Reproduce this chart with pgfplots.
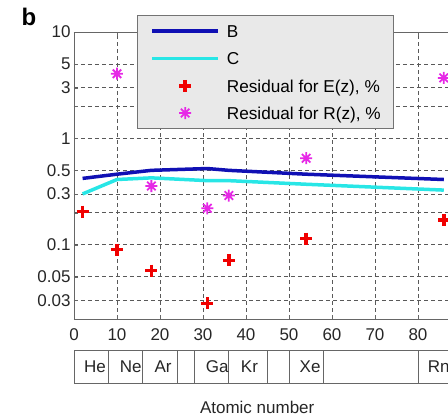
\documentclass[border=0pt]{standalone}
\usepackage{pgfplots}
\pgfplotsset{compat=1.18}
\usepackage{fontspec}
\setmainfont{Liberation Sans}
\definecolor{bline}{RGB}{16,16,180}
\definecolor{cline}{RGB}{40,230,230}
\definecolor{resE}{RGB}{240,0,0}
\definecolor{resR}{RGB}{230,40,230}
\definecolor{leggray}{RGB}{233,233,233}
\pgfdeclareplotmark{ast8}{%
  \pgfpathmoveto{\pgfqpoint{-\pgfplotmarksize}{0pt}}\pgfpathlineto{\pgfqpoint{\pgfplotmarksize}{0pt}}%
  \pgfpathmoveto{\pgfqpoint{0pt}{-\pgfplotmarksize}}\pgfpathlineto{\pgfqpoint{0pt}{\pgfplotmarksize}}%
  \pgfpathmoveto{\pgfqpoint{-0.707\pgfplotmarksize}{-0.707\pgfplotmarksize}}\pgfpathlineto{\pgfqpoint{0.707\pgfplotmarksize}{0.707\pgfplotmarksize}}%
  \pgfpathmoveto{\pgfqpoint{-0.707\pgfplotmarksize}{0.707\pgfplotmarksize}}\pgfpathlineto{\pgfqpoint{0.707\pgfplotmarksize}{-0.707\pgfplotmarksize}}%
  \pgfusepathqstroke}
\pgfplotsset{
  lineleg/.style={legend image code/.code={\draw[##1] (0pt,0pt) -- (66pt,0pt);}},
  markleg/.style={legend image code/.code={\draw[##1] plot coordinates {(33pt,0pt)};}},
}
\begin{document}
\begin{tikzpicture}
\begin{axis}[
  name=main,
  at={(0pt,0pt)}, anchor=south west,
  scale only axis, width=378.4pt, height=287pt,
  xmin=0, xmax=88, ymode=log, ymin=0.02, ymax=10,
  xtick={0,10,20,30,40,50,60,70,80},
  xticklabels={0,10,20,30,40,50,60,70,80},
  ytick={0.02,0.03,0.05,0.1,0.2,0.3,0.5,1,2,3,5,10},
  yticklabels={,0.03,0.05,0.1,,0.3,0.5,1,,3,5,10},
  grid=major,
  major grid style={black!65, line width=0.5pt, dash pattern=on 4pt off 3pt},
  axis line style={black!60, line width=0.8pt},
  tick style={black!60}, tick align=inside, major tick length=4pt,
  minor tick num=0,
  ticklabel style={font=\fontsize{17}{20}\selectfont, text=black!85},
  xticklabel style={yshift=-6pt},
  legend cell align=left,
  legend style={at={(axis description cs:0.1665,1.0592)}, anchor=north west,
    fill=leggray, draw=black!55, line width=0.8pt,
    font=\fontsize{17.2}{20}\selectfont,
    inner xsep=13pt, inner ysep=9.5pt,
    row sep=14.8pt, column sep=7pt,
    nodes={inner sep=0pt, text height=12.5pt, text depth=0pt}},
]
\addplot[bline, line width=3.5pt, lineleg]
  coordinates {(2,0.42) (10,0.46) (18,0.50) (31,0.52) (36,0.50) (54,0.46) (86,0.41)};
\addlegendentry{B}
\addplot[cline, line width=3.5pt, lineleg]
  coordinates {(2,0.30) (10,0.41) (18,0.425) (31,0.40) (36,0.40) (54,0.37) (86,0.326)};
\addlegendentry{C}
\addplot[resE, only marks, mark=+, mark size=6pt, line width=3.5pt, markleg]
  coordinates {(2,0.204) (10,0.09) (18,0.057) (31,0.028) (36,0.071) (54,0.114) (86,0.17)};
\addlegendentry{Residual for E(z), \%}
\addplot[resR, only marks, mark=ast8, mark size=6pt, line width=1.8pt, markleg]
  coordinates {(10,4.05) (18,0.356) (31,0.22) (36,0.29) (54,0.65) (86,3.7)};
\addlegendentry{Residual for R(z), \%}
\end{axis}
\node[font=\bfseries\fontsize{24}{26}\selectfont] at ([xshift=-45pt,yshift=15pt]main.north west) {b};
\begin{axis}[
  at={(0pt,-31pt)}, anchor=north west,
  scale only axis, width=378.4pt, height=33pt,
  xmin=0, xmax=88, ymin=0, ymax=1, ytick=\empty,
  xtick={4.9,13.2,20.7,33.3,40.8,54.9,84.8},
  xticklabels={He,Ne,Ar,Ga,Kr,Xe,Rn},
  major tick length=0pt, minor tick length=0pt,
  minor xtick={8,16,24,28,36,45,50,58,80},
  xminorgrids, minor grid style={black!60, solid, line width=0.8pt},
  axis line style={black!60, line width=0.8pt},
  xticklabel style={anchor=center, yshift=16.5pt, font=\fontsize{17}{20}\selectfont, text=black!85},
  xlabel={Atomic number},
  xlabel style={at={(axis description cs:0.5,0)}, anchor=center, yshift=-24pt, xshift=-6pt,
    font=\fontsize{17}{20}\selectfont, text=black!85},
]
\end{axis}
\pgfresetboundingbox
\path[use as bounding box] (-74pt,-98pt) rectangle (374pt,319pt);
\end{tikzpicture}
\end{document}
